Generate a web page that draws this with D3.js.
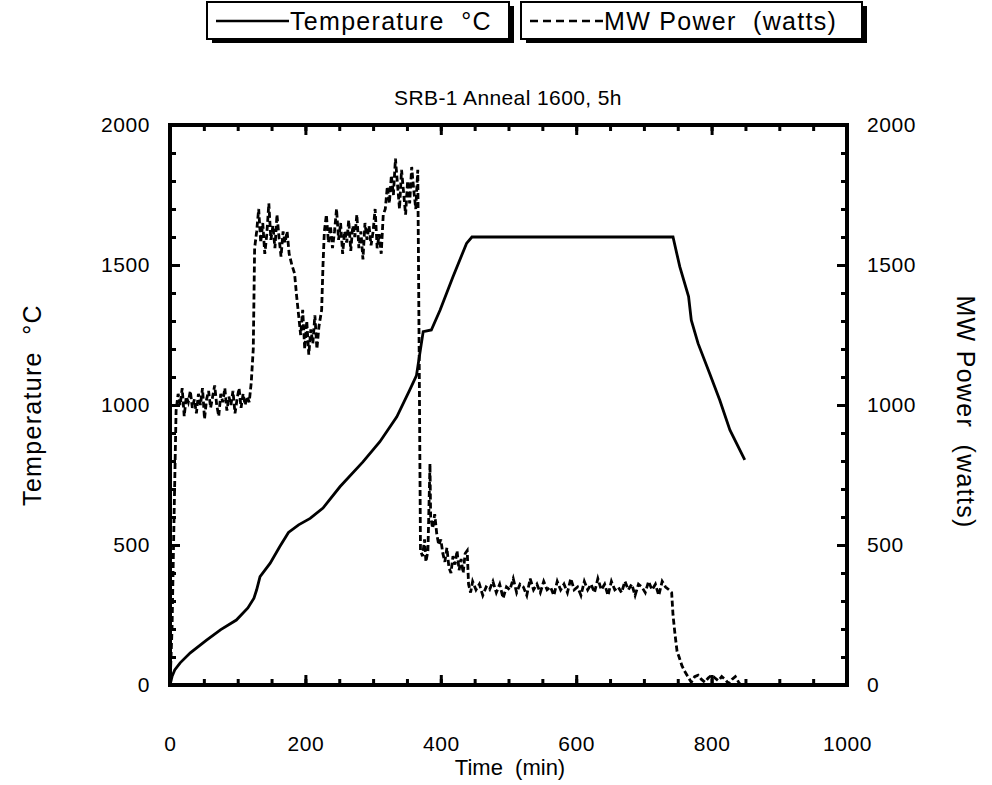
<!DOCTYPE html>
<head>
<meta charset="utf-8">
<script src="https://d3js.org/d3.v7.min.js"></script>
</head>
<body style="margin:0;background:#fff">
<style>
  * { font-family: "Liberation Sans", Arial, sans-serif; }
  text { fill: #000; }
</style>
<div id="viz"></div>
<script>

// ---- data ----
var tempTime = [0, 3, 7, 15, 30, 54, 75, 98, 115, 124, 128, 133, 148, 162, 175, 190, 207, 226, 251, 285, 310, 335, 354, 364, 374, 386, 399, 418, 438, 446, 743, 753, 766, 770, 780, 797, 812, 827, 849];
var tempVal  = [0, 30, 54, 79, 115, 160, 198, 232, 275, 310, 340, 387, 435, 494, 545, 572, 595, 632, 708, 797, 869, 958, 1053, 1105, 1262, 1268, 1339, 1458, 1577, 1600, 1600, 1494, 1387, 1303, 1220, 1113, 1018, 911, 804];

var powTime = [0, 3, 6, 9, 12, 15, 18, 21, 24, 27, 30, 33, 36, 39, 42, 45, 48, 51, 54, 57, 60, 63, 66, 69, 72, 75, 78, 81, 84, 87, 90, 93, 96, 99, 102, 105, 108, 111, 114, 117, 120,
  123, 125, 128, 131, 134, 137, 140, 143, 146, 149, 152, 155, 158, 161, 164, 167, 170, 173, 176, 180, 184, 187, 190, 193, 196, 199, 202, 205, 208, 211, 214, 217, 220, 224,
  226, 228, 231, 234, 237, 240, 243, 246, 249, 252, 255, 258, 261, 264, 267, 270, 273, 276, 279, 282, 285, 288, 291, 294, 297, 300, 303, 306, 309, 312, 315,
  318, 321, 324, 327, 330, 333, 336, 339, 342, 345, 348, 351, 354, 357, 360, 363, 366, 368, 370, 373, 376, 378, 381, 384, 385, 388, 391, 394, 397, 400, 403, 406, 409,
  412, 415, 418, 421, 424, 427, 430, 433, 436, 439, 441, 444, 447, 452, 457, 462, 467, 472, 477, 482, 487, 492, 497, 502, 507, 512, 517, 522, 527, 532, 537, 542,
  547, 552, 557, 562, 567, 572, 577, 582, 587, 592, 597, 602, 607, 612, 617, 622, 627, 632, 637, 642, 647, 652, 657, 662, 667, 672, 677, 682, 687, 692, 697, 702,
  707, 712, 717, 722, 727, 732, 737, 741, 743, 746, 749, 752, 756, 760, 765, 770, 775, 780, 785, 790, 795, 800, 805, 810, 815, 820, 825, 830, 835, 840, 843];
var powVal = [0, 200, 600, 980, 1040, 1000, 1060, 960, 1030, 1010, 1050, 990, 1020, 970, 1040, 1000, 1060, 950, 1020, 1050, 990, 1030, 1070, 1000, 960, 1040, 1010, 1060, 980, 1030, 1000, 1050, 970, 1020, 1060, 990, 1040, 1000, 1030, 1010, 1080,
  1200, 1560, 1620, 1700, 1580, 1650, 1540, 1610, 1720, 1590, 1640, 1560, 1680, 1600, 1530, 1620, 1580, 1620, 1540, 1500, 1470, 1390, 1320, 1250, 1340, 1200, 1300, 1180, 1270, 1220, 1320, 1200, 1280, 1340,
  1500, 1620, 1680, 1580, 1640, 1560, 1620, 1700, 1590, 1650, 1540, 1620, 1580, 1660, 1550, 1640, 1600, 1680, 1560, 1620, 1520, 1650, 1590, 1640, 1570, 1620, 1700, 1560, 1610, 1540, 1680,
  1700, 1780, 1720, 1820, 1750, 1880, 1790, 1700, 1840, 1760, 1680, 1800, 1720, 1850, 1770, 1700, 1840, 1200, 480, 460, 520, 440, 480, 790, 600, 560, 610, 540, 500, 520, 470, 440, 490,
  420, 400, 460, 430, 480, 410, 450, 400, 470, 480, 360, 330, 370, 340, 360, 320, 350, 340, 370, 330, 360, 310, 350, 340, 380, 330, 360, 350, 320, 380, 340, 360,
  330, 370, 340, 350, 320, 370, 340, 360, 330, 380, 340, 350, 320, 370, 340, 360, 330, 380, 340, 360, 320, 370, 340, 350, 330, 370, 340, 360, 320, 360, 350, 330,
  370, 340, 360, 320, 370, 350, 340, 330, 250, 180, 120, 100, 70, 50, 30, 10, 30, 35, 20, 10, 25, 35, 25, 15, 30, 20, 5, 20, 30, 10, 0];

var xTicks = [0, 200, 400, 600, 800, 1000];
var yTicks = [0, 500, 1000, 1500, 2000];

// ---- layout ----
var margin = {top: 125, right: 145, bottom: 100, left: 170},
    width = 992 - margin.left - margin.right,
    height = 785 - margin.top - margin.bottom;

var svgRoot = d3.select("#viz")
  .append("svg")
    .attr("width", 992)
    .attr("height", 785);

var svg = svgRoot.append("g")
    .attr("transform", "translate(" + margin.left + "," + margin.top + ")");

var x = d3.scaleLinear().domain([0, 1000]).range([0, width]);
var y = d3.scaleLinear().domain([0, 2000]).range([height, 0]);
var y2 = d3.scaleLinear().domain([0, 2000]).range([height, 0]);

// inward ticks, labels only on the major ones
function styleAxis(g, w) {
  g.select(".domain").remove();
  g.selectAll(".tick line").attr("stroke", "#000").attr("stroke-width", w);
  g.selectAll("text").style("font-size", "21px").style("letter-spacing", "0.6px").attr("fill", "#000");
}

var minorX = d3.range(0, 1001, 50), minorY = d3.range(0, 2001, 100);

svg.append("g").attr("transform", "translate(0," + height + ")")
  .call(d3.axisBottom(x).tickValues(minorX).tickSize(-6).tickFormat(""))
  .call(styleAxis, 3);
svg.append("g")
  .call(d3.axisTop(x).tickValues(minorX).tickSize(-6).tickFormat(""))
  .call(styleAxis, 3);
svg.append("g")
  .call(d3.axisLeft(y).tickValues(minorY).tickSize(-6).tickFormat(""))
  .call(styleAxis, 3);
svg.append("g").attr("transform", "translate(" + width + ",0)")
  .call(d3.axisRight(y2).tickValues(minorY).tickSize(-6).tickFormat(""))
  .call(styleAxis, 3);

svg.append("g").attr("transform", "translate(0," + height + ")")
  .call(d3.axisBottom(x).tickValues(xTicks).tickSize(-10).tickPadding(51).tickFormat(d3.format("d")))
  .call(styleAxis, 3);
svg.append("g")
  .call(d3.axisTop(x).tickValues(xTicks).tickSize(-10).tickFormat(""))
  .call(styleAxis, 3);
svg.append("g")
  .call(d3.axisLeft(y).tickValues(yTicks).tickSize(-10).tickPadding(20).tickFormat(d3.format("d")))
  .call(styleAxis, 3);
svg.append("g").attr("transform", "translate(" + width + ",0)")
  .call(d3.axisRight(y2).tickValues(yTicks).tickSize(-10).tickPadding(20).tickFormat(d3.format("d")))
  .call(styleAxis, 3);

// frame
svg.append("rect")
  .attr("width", width).attr("height", height)
  .attr("fill", "none").attr("stroke", "#000").attr("stroke-width", 4);

// temperature (solid)
var tempData = tempTime.map(function(t, i) { return {t: t, v: tempVal[i]}; });
svg.append("path")
  .datum(tempData)
  .attr("fill", "none")
  .attr("stroke", "#000")
  .attr("stroke-width", 2.8)
  .attr("d", d3.line()
    .x(function(d) { return x(d.t); })
    .y(function(d) { return y(d.v); }));

// power (dashed)
var powData = powTime.map(function(t, i) { return {t: t, v: powVal[i]}; });
svg.append("path")
  .datum(powData)
  .attr("fill", "none")
  .attr("stroke", "#000")
  .attr("stroke-width", 2.8)
  .attr("stroke-dasharray", "6,3")
  .attr("d", d3.line()
    .x(function(d) { return x(d.t); })
    .y(function(d) { return y2(d.v); }));

// title
svgRoot.append("text")
  .attr("x", 508).attr("y", 105)
  .style("text-anchor", "middle")
  .style("font-size", "21px")
  .style("letter-spacing", "0.4px")
  .text("SRB-1 Anneal 1600, 5h");

// axis titles
svgRoot.append("text")
  .attr("x", 510).attr("y", 775)
  .style("text-anchor", "middle")
  .style("font-size", "22px")
  .attr("xml:space", "preserve")
  .text("Time  (min)");

svgRoot.append("text")
  .attr("transform", "translate(41,405) rotate(-90)")
  .style("text-anchor", "middle")
  .style("font-size", "25px")
  .style("letter-spacing", "1.3px")
  .attr("xml:space", "preserve")
  .text("Temperature  °C");

svgRoot.append("text")
  .attr("transform", "translate(957,412) rotate(90)")
  .style("text-anchor", "middle")
  .style("font-size", "25px")
  .style("letter-spacing", "1.3px")
  .attr("xml:space", "preserve")
  .text("MW Power  (watts)");

// legend boxes with drop shadow
var legend = [
  {x: 207, w: 302, label: "Temperature  °C", dash: null},
  {x: 521, w: 341, label: "MW Power  (watts)", dash: "8,5"}
];
legend.forEach(function(l) {
  var g = svgRoot.append("g");
  g.append("rect").attr("x", l.x + 5).attr("y", 6).attr("width", l.w).attr("height", 37).attr("fill", "#000");
  g.append("rect").attr("x", l.x).attr("y", 2).attr("width", l.w).attr("height", 37)
    .attr("fill", "#fff").attr("stroke", "#000").attr("stroke-width", 2);
  g.append("line")
    .attr("x1", l.x + 9).attr("x2", l.x + 82)
    .attr("y1", 21).attr("y2", 21)
    .attr("stroke", "#000").attr("stroke-width", 2.5)
    .attr("stroke-dasharray", l.dash);
  g.append("text")
    .attr("x", l.x + 83).attr("y", 30)
    .attr("xml:space", "preserve")
    .style("font-size", "25px")
    .style("letter-spacing", "1.3px")
    .text(l.label);
});

</script>
</body>
